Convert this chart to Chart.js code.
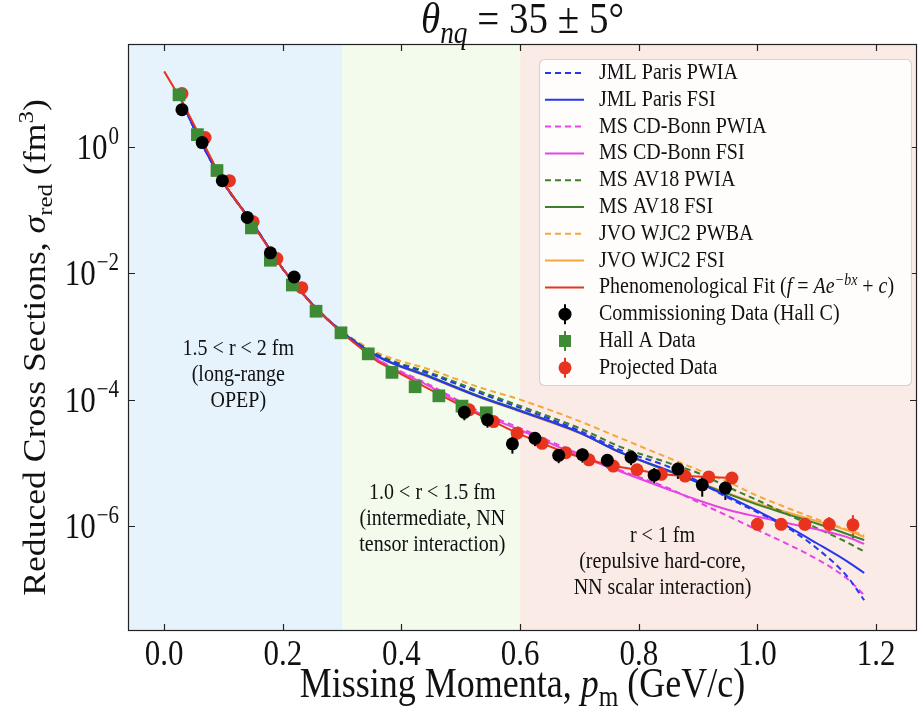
<!DOCTYPE html>
<html>
<head>
<meta charset="utf-8">
<title>Reduced cross sections</title>
<script src="https://cdn.jsdelivr.net/npm/chart.js@4.4.1/dist/chart.umd.min.js"></script>
<style>
html, body { margin: 0; padding: 0; background: #ffffff; }
</style>
</head>
<body>
<canvas id="xsec_chart" width="918" height="710"></canvas>
<script>
// ---- data ----
var modelX = [0.025, 0.05, 0.1, 0.15, 0.2, 0.25, 0.3, 0.36, 0.45, 0.53, 0.6, 0.7, 0.77, 0.85, 0.9, 0.95, 1.0, 1.05, 1.1, 1.15, 1.18];

var jmlParisPWIA = [6.6, 2.0, 0.27, 0.060, 0.0117, 0.0032, 0.00118, 5.01e-4, 2.51e-4, 1.29e-4, 7.41e-5, 3.24e-5, 1.58e-5, 8.71e-6, 5.13e-6, 2.82e-6, 1.66e-6, 9.55e-7, 4.47e-7, 1.66e-7, 6.76e-8];
var jmlParisFSI  = [6.6, 2.0, 0.27, 0.060, 0.0117, 0.0032, 0.00117, 4.79e-4, 2.24e-4, 1.12e-4, 6.61e-5, 3.02e-5, 1.45e-5, 7.59e-6, 4.90e-6, 2.95e-6, 1.74e-6, 1.0e-6, 5.37e-7, 2.82e-7, 1.82e-7];
var cdBonnPWIA   = [6.6, 2.0, 0.27, 0.060, 0.0117, 0.0032, 0.00115, 4.37e-4, 1.66e-4, 6.61e-5, 3.55e-5, 1.38e-5, 7.59e-6, 3.98e-6, 2.40e-6, 1.45e-6, 8.71e-7, 5.25e-7, 3.02e-7, 1.51e-7, 8.13e-8];
var cdBonnFSI    = [6.6, 2.0, 0.27, 0.060, 0.0117, 0.0032, 0.00115, 4.27e-4, 1.58e-4, 6.17e-5, 3.31e-5, 1.29e-5, 7.24e-6, 3.80e-6, 2.57e-6, 1.82e-6, 1.41e-6, 1.12e-6, 8.91e-7, 6.76e-7, 5.25e-7];
var av18PWIA     = [6.6, 2.0, 0.27, 0.060, 0.0117, 0.0032, 0.00119, 5.13e-4, 2.63e-4, 1.38e-4, 7.94e-5, 3.55e-5, 1.78e-5, 1.0e-5, 6.92e-6, 4.17e-6, 2.57e-6, 1.55e-6, 9.33e-7, 5.62e-7, 3.98e-7];
var av18FSI      = [6.6, 2.0, 0.27, 0.060, 0.0117, 0.0032, 0.00117, 4.90e-4, 2.29e-4, 1.15e-4, 6.76e-5, 3.02e-5, 1.45e-5, 7.41e-6, 4.90e-6, 3.24e-6, 2.19e-6, 1.55e-6, 1.10e-6, 7.59e-7, 6.03e-7];
var wjc2PWBA     = [6.6, 2.0, 0.27, 0.060, 0.0117, 0.0032, 0.00122, 5.50e-4, 2.95e-4, 1.58e-4, 1.0e-4, 4.57e-5, 2.45e-5, 1.20e-5, 7.76e-6, 5.01e-6, 3.02e-6, 1.95e-6, 1.29e-6, 8.91e-7, 7.24e-7];
var wjc2FSI      = [6.6, 2.0, 0.27, 0.060, 0.0117, 0.0032, 0.00117, 4.79e-4, 2.19e-4, 1.10e-4, 6.46e-5, 2.95e-5, 1.45e-5, 7.41e-6, 5.01e-6, 3.31e-6, 2.29e-6, 1.66e-6, 1.20e-6, 8.71e-7, 6.76e-7];

var fitX = [0.0, 0.03, 0.06, 0.1, 0.15, 0.2, 0.25, 0.3, 0.36, 0.45, 0.514, 0.555, 0.595, 0.637, 0.677, 0.716, 0.757, 0.797, 0.838, 0.878, 0.918, 0.957];
var fitY = [15.5, 5.25, 1.48, 0.27, 0.0575, 0.0117, 0.0031, 0.00112, 3.98e-4, 1.41e-4, 6.9e-5, 4.5e-5, 2.95e-5, 2.04e-5, 1.45e-5, 1.12e-5, 8.9e-6, 7.8e-6, 6.6e-6, 6.2e-6, 6.0e-6, 5.75e-6];

var hallCX   = [0.030, 0.064, 0.098, 0.140, 0.179, 0.219, 0.506, 0.545, 0.587, 0.625, 0.665, 0.705, 0.747, 0.787, 0.826, 0.866, 0.907, 0.946];
var hallCY   = [3.85, 1.16, 0.29, 0.076, 0.021, 0.0087, 6.3e-5, 4.8e-5, 2.0e-5, 2.45e-5, 1.32e-5, 1.35e-5, 1.1e-5, 1.23e-5, 6.4e-6, 8.0e-6, 4.5e-6, 4.0e-6];
var hallCErr = [0.05, 0.05, 0.05, 0.05, 0.05, 0.05, 0.25, 0.25, 0.3, 0.25, 0.25, 0.25, 0.25, 0.25, 0.3, 0.3, 0.35, 0.35];

var hallAX = [0.025, 0.056, 0.089, 0.147, 0.179, 0.216, 0.256, 0.298, 0.344, 0.384, 0.423, 0.463, 0.502, 0.543];
var hallAY = [6.6, 1.55, 0.42, 0.052, 0.016, 0.0065, 0.0025, 0.00114, 5.3e-4, 2.7e-4, 1.6e-4, 1.15e-4, 7.9e-5, 6.2e-5];

var projX   = [0.030, 0.069, 0.110, 0.150, 0.190, 0.232, 0.514, 0.555, 0.595, 0.637, 0.677, 0.716, 0.757, 0.797, 0.838, 0.878, 0.918, 0.957, 1.000, 1.040, 1.080, 1.121, 1.161];
var projY   = [6.9, 1.39, 0.29, 0.065, 0.017, 0.0059, 6.9e-5, 4.5e-5, 2.95e-5, 2.04e-5, 1.45e-5, 1.12e-5, 8.9e-6, 7.8e-6, 6.6e-6, 6.2e-6, 6.0e-6, 5.75e-6, 1.07e-6, 1.07e-6, 1.07e-6, 1.07e-6, 1.05e-6];
var projErr = [0.03, 0.03, 0.03, 0.03, 0.03, 0.03, 0.08, 0.08, 0.08, 0.08, 0.08, 0.08, 0.08, 0.08, 0.08, 0.08, 0.08, 0.1, 0.12, 0.15, 0.2, 0.3, 0.42];

var xTicks = [0.0, 0.2, 0.4, 0.6, 0.8, 1.0, 1.2];
var xTickLabels = ['0.0', '0.2', '0.4', '0.6', '0.8', '1.0', '1.2'];
var yTicks = [1, 1e-2, 1e-4, 1e-6];
var yTickExponents = ['0', '\u22122', '\u22124', '\u22126'];

var regionEdges = [0.3, 0.6];
var regionColors = ['#e7f3fc', '#f2fbec', '#fbebe7'];
var regionText = [
  ['1.5 < r < 2 fm', '(long-range', 'OPEP)'],
  ['1.0 < r < 1.5 fm', '(intermediate, NN', 'tensor interaction)'],
  ['r < 1 fm', '(repulsive hard-core,', 'NN scalar interaction)']
];

// ---- helpers ----
var FONT = "'Liberation Serif', 'DejaVu Serif', serif";
var STRETCH = 1.15;

function xy(xs, ys)
{
    var out = [];
    for (var i = 0; i < xs.length; i++) {
        out.push({x: xs[i], y: ys[i]});
    }
    return out;
}

function partFont(p, size)
{
    var s = (p.sub || p.sup) ? size * 0.7 : size;
    return (p.it ? 'italic ' : '') + s + 'px ' + FONT;
}

function richWidth(c, parts, size)
{
    var w = 0;
    for (var i = 0; i < parts.length; i++) {
        c.font = partFont(parts[i], size);
        w += c.measureText(parts[i].t).width;
    }
    return w;
}

function drawRich(c, parts, x, y, size, align, rotated)
{
    c.save();
    c.translate(x, y);
    if (rotated) {
        c.rotate(-Math.PI / 2);
        c.scale(STRETCH, 1);
    } else {
        c.scale(1, STRETCH);
    }
    var w = richWidth(c, parts, size);
    var cx = align === 'center' ? -w / 2 : (align === 'right' ? -w : 0);
    c.textAlign = 'left';
    c.textBaseline = 'alphabetic';
    c.fillStyle = '#111';
    for (var i = 0; i < parts.length; i++) {
        var p = parts[i];
        c.font = partFont(p, size);
        var dy = p.sub ? size * 0.22 : (p.sup ? -size * 0.38 : 0);
        c.fillText(p.t, cx, dy);
        cx += c.measureText(p.t).width;
    }
    c.restore();
}

function lineSet(label, data, color, dashed)
{
    return {
        label: label,
        data: xy(modelX, data),
        borderColor: color,
        borderWidth: 2,
        borderDash: dashed ? [6, 4] : [],
        pointRadius: 0,
        fill: false,
        cubicInterpolationMode: 'monotone',
        order: 2
    };
}

function pointSet(label, xs, ys, color, style, radius, errs)
{
    return {
        label: label,
        data: xy(xs, ys),
        showLine: false,
        borderWidth: 0,
        backgroundColor: color,
        borderColor: color,
        pointStyle: style,
        pointRadius: radius,
        errs: errs,
        order: 0
    };
}

var datasets = [
    lineSet('JML Paris PWIA', jmlParisPWIA, '#2538ee', true),
    lineSet('JML Paris FSI', jmlParisFSI, '#2538ee', false),
    lineSet('MS CD-Bonn PWIA', cdBonnPWIA, '#e645e6', true),
    lineSet('MS CD-Bonn FSI', cdBonnFSI, '#e645e6', false),
    lineSet('MS AV18 PWIA', av18PWIA, '#3d7f2a', true),
    lineSet('MS AV18 FSI', av18FSI, '#3d7f2a', false),
    lineSet('JVO WJC2 PWBA', wjc2PWBA, '#f5a73b', true),
    lineSet('JVO WJC2 FSI', wjc2FSI, '#f5a73b', false),
    {
        label: 'Phenomenological Fit',
        richLabel: [{t: 'Phenomenological Fit ('}, {t: 'f', it: true}, {t: ' = '}, {t: 'Ae', it: true},
                    {t: '\u2212bx', it: true, sup: true}, {t: ' + '}, {t: 'c', it: true}, {t: ')'}],
        data: xy(fitX, fitY),
        borderColor: '#e8341f',
        borderWidth: 2,
        pointRadius: 0,
        fill: false,
        order: 1
    },
    pointSet('Commissioning Data (Hall C)', hallCX, hallCY, '#000000', 'circle', 6.5, hallCErr),
    pointSet('Hall A Data', hallAX, hallAY, '#3f8a35', 'rect', 9, null),
    pointSet('Projected Data', projX, projY, '#e8341f', 'circle', 6.5, projErr)
];

var decor = {
    id: 'decor',
    beforeDatasetsDraw: function(chart) {
        var c = chart.ctx, a = chart.chartArea, xs = chart.scales.x, ys = chart.scales.y;
        // shaded regions
        var edges = [xs.min].concat(regionEdges).concat([xs.max]);
        for (var i = 0; i < regionColors.length; i++) {
            var x0 = xs.getPixelForValue(edges[i]), x1 = xs.getPixelForValue(edges[i + 1]);
            c.fillStyle = regionColors[i];
            c.fillRect(x0, a.top, x1 - x0, a.bottom - a.top);
        }
        // region labels
        var centers = [[0.125, 355], [0.452, 499], [0.84, 542]];
        for (i = 0; i < regionText.length; i++) {
            for (var j = 0; j < regionText[i].length; j++) {
                drawRich(c, [{t: regionText[i][j]}], xs.getPixelForValue(centers[i][0]),
                         centers[i][1] + j * 26, 20, 'center', false);
            }
        }
        // error bars
        chart.data.datasets.forEach(function(ds) {
            if (!ds.errs) return;
            c.save();
            c.strokeStyle = ds.borderColor;
            c.lineWidth = 2;
            ds.data.forEach(function(p, k) {
                var px = xs.getPixelForValue(p.x);
                c.beginPath();
                c.moveTo(px, ys.getPixelForValue(p.y * (1 + ds.errs[k])));
                c.lineTo(px, ys.getPixelForValue(p.y * (1 - ds.errs[k])));
                c.stroke();
            });
            c.restore();
        });
    },
    afterDraw: function(chart) {
        var c = chart.ctx, a = chart.chartArea, xs = chart.scales.x, ys = chart.scales.y;
        var i, px, py;
        // frame and inward ticks
        c.save();
        c.strokeStyle = '#222';
        c.lineWidth = 1.2;
        c.strokeRect(a.left + 0.5, a.top + 0.5, a.right - a.left - 1, a.bottom - a.top - 1);
        c.beginPath();
        for (i = 0; i < xTicks.length; i++) {
            px = Math.round(xs.getPixelForValue(xTicks[i])) + 0.5;
            c.moveTo(px, a.bottom); c.lineTo(px, a.bottom - 7);
            c.moveTo(px, a.top); c.lineTo(px, a.top + 7);
        }
        for (i = 0; i < yTicks.length; i++) {
            py = Math.round(ys.getPixelForValue(yTicks[i])) + 0.5;
            c.moveTo(a.left, py); c.lineTo(a.left + 7, py);
            c.moveTo(a.right, py); c.lineTo(a.right - 7, py);
        }
        c.stroke();
        c.restore();

        // tick labels
        for (i = 0; i < xTicks.length; i++) {
            drawRich(c, [{t: xTickLabels[i]}], xs.getPixelForValue(xTicks[i]), a.bottom + 34, 31, 'center', false);
        }
        for (i = 0; i < yTicks.length; i++) {
            py = ys.getPixelForValue(yTicks[i]);
            var w = 0;
            c.font = '21px ' + FONT;
            w = c.measureText(yTickExponents[i]).width;
            drawRich(c, [{t: '10'}], a.left - 10 - w, py + 12, 31, 'right', false);
            c.save();
            c.translate(a.left - 9 - w, py - 3);
            c.scale(1, STRETCH);
            c.font = '21px ' + FONT;
            c.fillStyle = '#111';
            c.textAlign = 'left';
            c.fillText(yTickExponents[i], 0, 0);
            c.restore();
        }

        // title and axis titles
        var midX = (a.left + a.right) / 2;
        drawRich(c, [{t: '\u03b8', it: true}, {t: 'nq', it: true, sub: true}, {t: ' = 35 \u00b1 5\u00b0'}],
                 midX, 33, 39, 'center', false);
        drawRich(c, [{t: 'Missing Momenta, '}, {t: 'p', it: true}, {t: 'm', sub: true}, {t: ' (GeV/c)'}],
                 midX, 697, 36, 'center', false);
        drawRich(c, [{t: 'Reduced Cross Sections, '}, {t: '\u03c3', it: true}, {t: 'red', sub: true},
                     {t: ' (fm'}, {t: '3', sup: true}, {t: ')'}],
                 45, (a.top + a.bottom) / 2 + 10, 31, 'center', true);

        // legend
        var lw = 372, lh = 326;
        var lx = a.right - 6 - lw, ly = a.top + 15;
        c.save();
        c.fillStyle = 'rgba(255,255,255,0.85)';
        c.strokeStyle = '#d4d4d4';
        c.lineWidth = 1.2;
        c.beginPath();
        c.roundRect(lx + 0.5, ly + 0.5, lw, lh, 5);
        c.fill();
        c.stroke();
        for (i = 0; i < chart.data.datasets.length; i++) {
            var ds = chart.data.datasets[i];
            var cy = ly + 14 + i * 26.8;
            if (ds.showLine === false) {
                var mx = lx + 26;
                c.strokeStyle = ds.backgroundColor;
                c.lineWidth = 2;
                c.setLineDash([]);
                c.beginPath();
                c.moveTo(mx, cy - 10); c.lineTo(mx, cy + 10);
                c.stroke();
                c.fillStyle = ds.backgroundColor;
                c.beginPath();
                if (ds.pointStyle === 'rect') {
                    c.rect(mx - 6, cy - 6, 12, 12);
                } else {
                    c.arc(mx, cy, 6.5, 0, Math.PI * 2);
                }
                c.fill();
            } else {
                c.strokeStyle = ds.borderColor;
                c.lineWidth = 2;
                c.setLineDash(ds.borderDash || []);
                c.beginPath();
                c.moveTo(lx + 6, cy); c.lineTo(lx + 45, cy);
                c.stroke();
                c.setLineDash([]);
            }
            drawRich(c, ds.richLabel || [{t: ds.label}], lx + 60, cy + 6, 20, 'left', false);
        }
        c.restore();
    }
};

var ctx = document.getElementById('xsec_chart').getContext('2d');
new Chart(ctx, {
    type: 'line',
    data: { datasets: datasets },
    options: {
        responsive: false,
        animation: false,
        devicePixelRatio: 1,
        layout: { autoPadding: false, padding: { left: 128, right: 1, top: 44, bottom: 79 } },
        plugins: {
            legend: { display: false },
            tooltip: { enabled: false }
        },
        scales: {
            x: { type: 'linear', display: false, min: -0.061, max: 1.269 },
            y: { type: 'logarithmic', display: false, min: 2.2e-8, max: 42 }
        }
    },
    plugins: [decor]
});
</script>
</body>
</html>
